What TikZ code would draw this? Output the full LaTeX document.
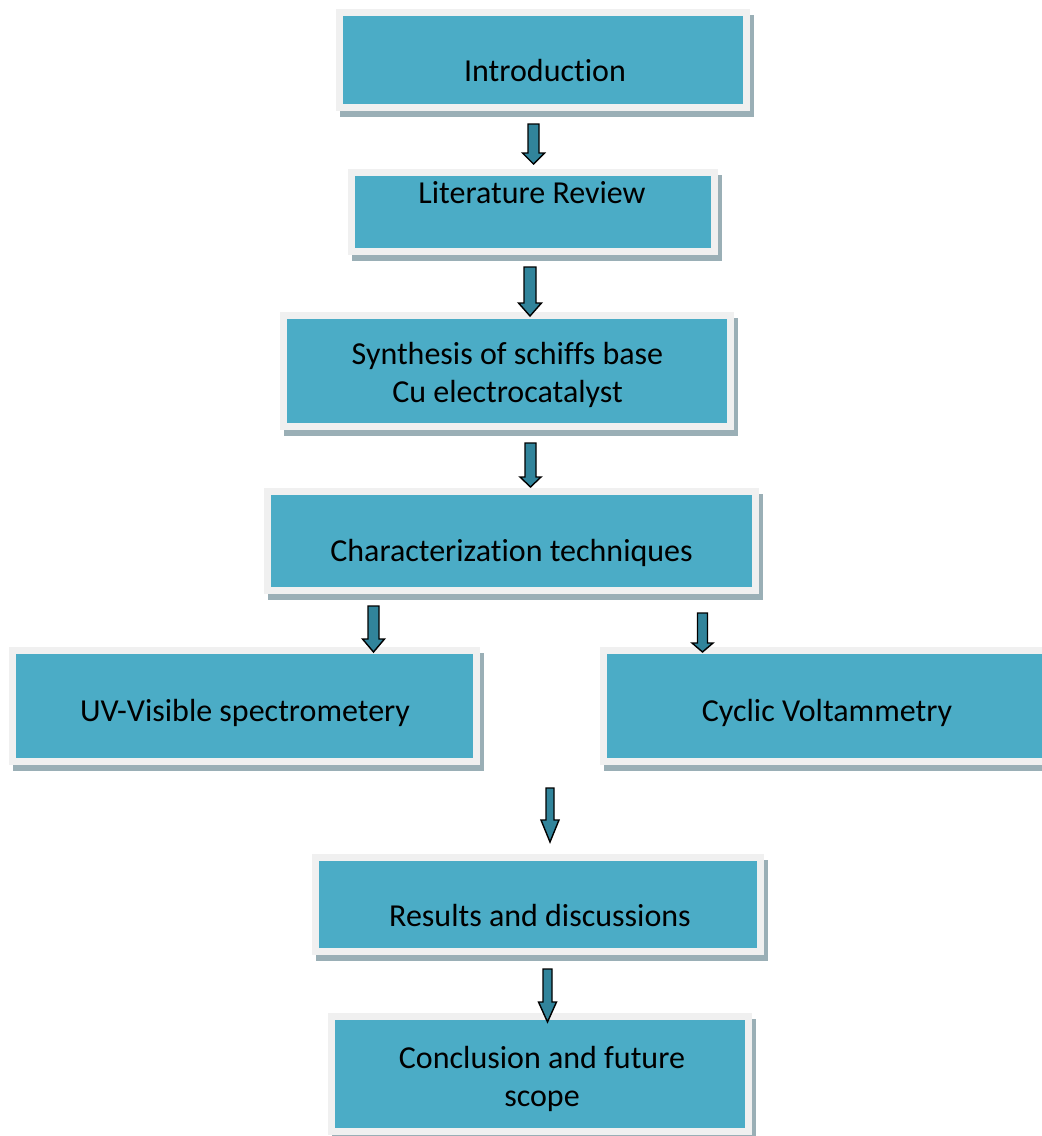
\documentclass[tikz,border=0pt]{standalone}
\usepackage{fontspec}
\setmainfont{Carlito}[Ligatures=NoCommon]
\definecolor{teal}{HTML}{4BACC6}
\definecolor{framegray}{HTML}{F0F0F0}
\definecolor{shadowgray}{HTML}{9AAFB6}
\definecolor{arrowteal}{HTML}{31849B}
\tikzset{
  innerbox/.style={fill=teal, draw=none, inner sep=0pt},
  boxtext/.style={font=\fontsize{32}{38}\selectfont, align=center, anchor=base, inner sep=0pt, text=black},
  blockarrow/.style={fill=arrowteal, draw=black, line width=1.4pt, line join=miter}
}
% #1 name, #2 x1, #3 y1, #4 x2, #5 y2 (inner teal rectangle, y downwards)
\newcommand{\flowbox}[5]{%
  \fill[shadowgray] (#2-7+3.5,#3-7+5.5) rectangle (#4+7+3.5,#5+7+5.5);
  \fill[framegray] (#2-7,#3-7) rectangle (#4+7,#5+7);
  \node[innerbox, minimum width=#4-#2, minimum height=#5-#3] (#1) at ({(#2+#4)/2},{(#3+#5)/2}) {};
}
% #1 x centre, #2 top, #3 head start, #4 tip, #5 half shaft, #6 half head
\newcommand{\blockarr}[6]{%
  \draw[blockarrow] (#1-#5,#2) -- (#1+#5,#2) -- (#1+#5,#3) -- (#1+#6,#3) -- (#1,#4)
     -- (#1-#6,#3) -- (#1-#5,#3) -- cycle;
}
\begin{document}
\begin{tikzpicture}[x=1pt,y=-1pt]
\useasboundingbox (0,0) rectangle (1042,1136);
\clip (0,0) rectangle (1042,1136);
\fill[white] (0,0) rectangle (1042,1136);

\flowbox{intro}{343}{16}{743}{104}
\node[boxtext] (introT) at (545,81) {Introduction};

\flowbox{lit}{355}{176}{711}{248}
\node[boxtext] (litT) at (532,203) {Literature Review};

\flowbox{syn}{287}{319}{727}{423}
\node[boxtext] (synT) at (507.5,402) {Synthesis of schiffs base\\Cu electrocatalyst};

\flowbox{char}{271}{495}{752}{587}
\node[boxtext] (charT) at (511.5,561) {Characterization techniques};

\flowbox{uv}{16}{654}{473}{758}
\node[boxtext] (uvT) at (245,721) {UV-Visible spectrometery};

\flowbox{cv}{607}{654}{1047}{758}
\node[boxtext] (cvT) at (827,721) {Cyclic Voltammetry};

\flowbox{res}{319}{861}{757}{948}
\node[boxtext] (resT) at (540,926) {Results and discussions};

\flowbox{con}{335}{1020}{745}{1128}
\node[boxtext] (conT) at (542,1106) {Conclusion and future\\scope};

\blockarr{533.5}{124}{153}{164}{5.5}{11}
\blockarr{530}{267}{303}{316}{6}{11.5}
\blockarr{530.5}{443}{477}{487}{5.5}{10.5}
\blockarr{373.5}{606}{639}{652}{5.5}{11}
\blockarr{702.5}{613}{643}{652}{5}{10.5}
\blockarr{550}{788}{820}{842}{4}{9}
\blockarr{547.5}{969}{1002}{1022}{4.5}{9}
\end{tikzpicture}
\end{document}
